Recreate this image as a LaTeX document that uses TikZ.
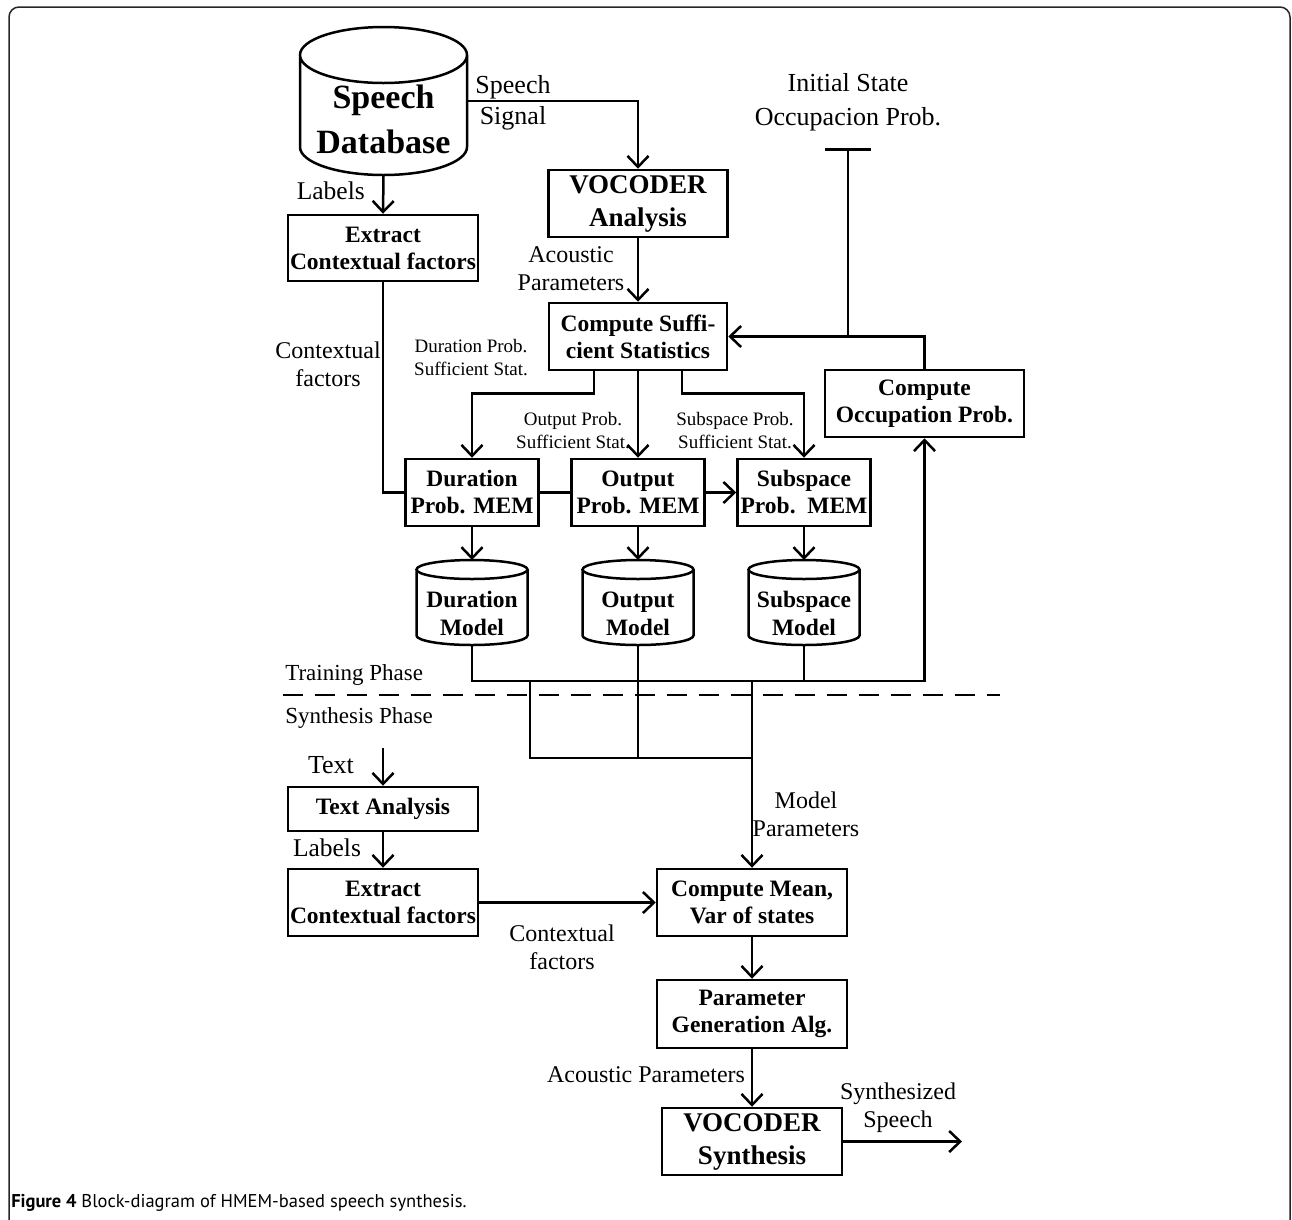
\documentclass[tikz,border=0pt]{standalone}
\usepackage{fontspec}
\setmainfont{Liberation Serif}
\newfontfamily\capfont{PT Sans}
\usetikzlibrary{positioning}
\usetikzlibrary{arrows.meta}

\tikzset{
  blk/.style={draw, line width=2.5pt, align=center, inner sep=0pt,
    font=\bfseries\fontsize{23.5}{27}\selectfont},
  tank/.style={rectangle, inner sep=0pt, outer sep=0pt, align=center,
    font=\bfseries\fontsize{23.5}{28}\selectfont},
  lbl/.style={align=center, inner sep=0pt, font=\fontsize{24}{28}\selectfont},
  slbl/.style={align=center, inner sep=0pt, font=\fontsize{19}{23}\selectfont},
  arr/.style={-{Straight Barb[length=11pt,width=21pt]}},
}
% outline of a storage tank round a node: name, x radius, y radius
\newcommand{\tankline}[3]{%
  \draw[line width=2.5pt] ([yshift=-#3]#1.north west) -- ([yshift=#3]#1.south west)
    arc[start angle=180, end angle=360, x radius=#2, y radius=#3]
    -- ([yshift=-#3]#1.north east)
    arc[start angle=0, end angle=360, x radius=#2, y radius=#3];}

\begin{document}
\begin{tikzpicture}[x=1pt,y=-1pt,line width=2.5pt]
\useasboundingbox (0,0) rectangle (1292,1219);

% frame
\draw[line width=1.5pt, black!85, rounded corners=10pt] (9,1260) -- (9,7) -- (1290,7) -- (1290,1260);

% training phase
\node[tank, minimum width=167pt, minimum height=148pt,
  font=\bfseries\fontsize{34}{45}\selectfont] (db) at (383.5,101) {\rule{0pt}{60pt}Speech\\Database};
\tankline{db}{83.5pt}{28pt}
\node[blk, minimum width=179pt, minimum height=67pt,
  font=\bfseries\fontsize{27}{33}\selectfont] (voc) at (638,203.5) {VOCODER\\Analysis};
\node[blk, minimum width=190pt, minimum height=66pt] (extr) at (383,248) {Extract\\Contextual factors};
\node[blk, minimum width=178pt, minimum height=67pt] (suff) at (638,336.5) {Compute Suffi-\\cient Statistics};
\node[blk, minimum width=199pt, minimum height=67pt] (occ) at (924.5,403.5) {Compute\\Occupation Prob.};

\node[blk, minimum width=133pt, minimum height=67pt] (durm) at (472,492.5) {Duration\\Prob. MEM};
\node[blk, minimum width=133pt, minimum height=67pt] (outm) at (638,492.5) {Output\\Prob. MEM};
\node[blk, minimum width=133pt, minimum height=67pt] (subm) at (804,492.5) {Subspace\\Prob.\ \ MEM};

\node[tank, minimum width=111pt, minimum height=85pt] (durc) at (472,602.5) {\rule{0pt}{39pt}Duration\\Model};
\node[tank, minimum width=111pt, minimum height=85pt] (outc) at (638,602.5) {\rule{0pt}{39pt}Output\\Model};
\node[tank, minimum width=111pt, minimum height=85pt] (subc) at (804,602.5) {\rule{0pt}{39pt}Subspace\\Model};
\tankline{durc}{55.5pt}{9.5pt}
\tankline{outc}{55.5pt}{9.5pt}
\tankline{subc}{55.5pt}{9.5pt}

\coordinate (init) at (848,148);
\coordinate (busR) at (924.5,681);
\coordinate (busL) at (530,681);
\coordinate (bus2) at (752,758);
\coordinate (phL) at (283,695);
\coordinate (phR) at (1000,695);

% synthesis phase
\node[blk, minimum width=190pt, minimum height=44pt] (txt) at (383,809) {Text Analysis};
\node[blk, minimum width=190pt, minimum height=67pt] (extrb) at (383,902.5) {Extract\\Contextual factors};
\node[blk, minimum width=190pt, minimum height=67pt] (mean) at (752,902.5) {Compute Mean,\\Var of states};
\node[blk, minimum width=190pt, minimum height=68pt] (gen) at (752,1014) {Parameter\\Generation Alg.};
\node[blk, minimum width=180pt, minimum height=67pt,
  font=\bfseries\fontsize{27}{33}\selectfont] (vsyn) at (752,1141.5) {VOCODER\\Synthesis};
\coordinate (txtin) at (383,748);
\coordinate (spout) at (962,1141.5);

% connectors
\draw[arr] (db.east) -| (voc.north);
\draw[arr] (db.south) -- (extr.north);
\draw[arr] (voc.south) -- (suff.north);
\draw (extr.south) |- (durm.west);
\draw[arr] ([xshift=-44pt]suff.south) -- ++(0,22) -| (durm.north);
\draw[arr] (suff.south) -- (outm.north);
\draw[arr] ([xshift=44pt]suff.south) -- ++(0,22) -| (subm.north);
\draw (durm.east) -- (outm.west);
\draw[arr] (outm.east) -- (subm.west);
\draw[arr] (durm.south) -- (durc.north);
\draw[arr] (outm.south) -- (outc.north);
\draw[arr] (subm.south) -- (subc.north);
\draw[arr] (durc.south) |- (busR) -- (occ.south);
\draw (subc.south) -- (subc.south |- busR);
\draw (outc.south) -- (outc.south |- bus2);
\draw (busL) |- (bus2);
\draw[arr] (occ.north) |- (suff.east);
\draw[{Bar[width=46pt]}-] (init) -- (init |- suff.east);
\draw[dash pattern=on 20pt off 12pt] (phL) -- (phR);

\draw[arr] (bus2 |- busR) -- (mean.north);
\draw[arr] (txtin) -- (txt.north);
\draw[arr] (txt.south) -- (extrb.north);
\draw[arr] (extrb.east) -- (mean.west);
\draw[arr] (mean.south) -- (gen.north);
\draw[arr] (gen.south) -- (vsyn.north);
\draw[arr] (vsyn.east) -- (spout);

% labels
\node[lbl, font=\fontsize{26}{31}\selectfont] (lsig) at (513,103) {Speech\\Signal};
\node[lbl, font=\fontsize{25.5}{31}\selectfont, anchor=east] (llab) at (366,191) {Labels};
\node[lbl] (lctx) at (328,364) {Contextual\\factors};
\node[lbl] (lac) at (571,269) {Acoustic\\Parameters};
\node[lbl, font=\fontsize{26}{34}\selectfont] (linit) at (848,102) {Initial State\\Occupacion Prob.};
\node[slbl] (ldur) at (471,358) {Duration Prob.\\Sufficient Stat.};
\node[slbl] (lout) at (573,431) {Output Prob.\\Sufficient Stat.};
\node[slbl] (lsub) at (735,431) {Subspace Prob.\\Sufficient Stat.};
\node[lbl, font=\fontsize{23}{26}\selectfont, anchor=west] (ltr) at (284,675) {Training Phase};
\node[lbl, font=\fontsize{23}{26}\selectfont, anchor=west] (lsy) at (284,718) {Synthesis Phase};
\node[lbl, font=\fontsize{26}{30}\selectfont] (ltxt) at (331,765) {Text};
\node[lbl] (lmod) at (806,814) {Model\\Parameters};
\node[lbl, font=\fontsize{25.5}{30}\selectfont] (llab2) at (327,848) {Labels};
\node[lbl] (lctx2) at (562,947) {Contextual\\factors};
\node[lbl] (lac2) at (646,1075) {Acoustic Parameters};
\node[lbl] (lsyn) at (898,1108) {Synthesized\\Speech};

% caption
\node[anchor=west, inner sep=0pt, font=\capfont\fontsize{18.5}{22}\selectfont] (cap) at (10,1203)
  {\textbf{Figure 4} Block-diagram of HMEM-based speech synthesis.};
\end{tikzpicture}
\end{document}
